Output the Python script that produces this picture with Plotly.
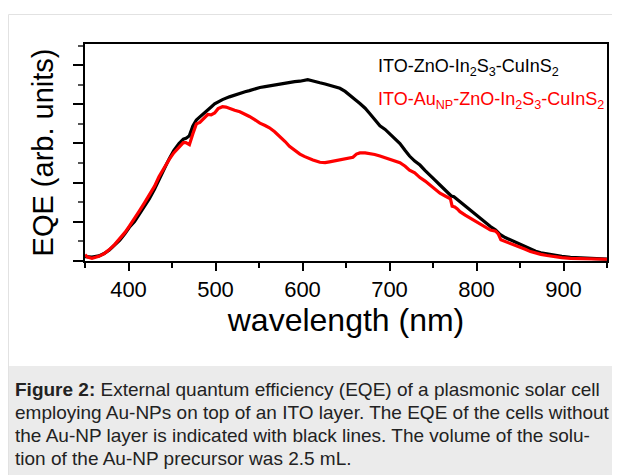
import plotly.graph_objects as go

# ---------------- data ----------------
wl_ref = [350, 358, 366, 372, 378, 384, 390, 396, 401, 407, 412, 418, 424, 430, 435, 441,
          447, 452, 458, 463, 466, 470, 474, 478, 482, 486, 491, 495, 499, 503, 508, 516,
          522, 528, 534, 539, 545, 551, 557, 562, 568, 574, 580, 585, 591, 597, 602, 606,
          610, 615, 620, 626, 631, 637, 643, 649, 654, 660, 666, 672, 677, 683, 689, 695,
          700, 706, 712, 718, 723, 729, 735, 741, 747, 752, 758, 764, 768, 771, 774, 781,
          787, 793, 799, 805, 810, 816, 822, 827, 833, 839, 845, 851, 856, 862, 868, 874,
          881, 889, 898, 908, 918, 928, 940, 950]
eqe_ref = [1.1, 1.0, 1.3, 1.9, 2.8, 4.0, 5.3, 7.0, 8.6, 10.1, 11.7, 13.8, 15.9, 18.4, 20.9, 23.5,
           26.2, 28.2, 30.0, 31.1, 31.3, 32.0, 34.5, 36.0, 36.8, 37.5, 38.5, 39.3, 40.1, 40.6, 41.2, 41.9,
           42.4, 42.9, 43.2, 43.5, 44.0, 44.3, 44.5, 44.7, 45.0, 45.3, 45.5, 45.7, 45.8, 45.9, 46.1, 46.3,
           46.1, 45.7, 45.5, 45.2, 44.9, 44.6, 44.1, 43.3, 42.3, 41.3, 40.2, 39.0, 37.7, 36.0, 34.5, 33.6,
           32.6, 31.4, 30.0, 28.2, 26.8, 25.5, 24.5, 23.1, 21.9, 20.7, 19.4, 18.2, 17.3, 16.6, 16.4, 15.1,
           14.0, 13.0, 11.9, 10.9, 9.8, 8.8, 7.9, 6.8, 6.0, 5.4, 4.7, 4.1, 3.5, 3.0, 2.5, 2.1,
           1.8, 1.5, 1.2, 0.95, 0.8, 0.68, 0.55, 0.5]

wl_au = [350, 353, 358, 366, 372, 378, 384, 390, 396, 401, 407, 412, 418, 424, 430, 435,
         441, 447, 452, 458, 463, 466, 470, 474, 478, 482, 486, 491, 495, 499, 503, 508,
         512, 516, 522, 528, 534, 539, 545, 551, 557, 562, 568, 574, 580, 585, 591, 597,
         602, 606, 612, 620, 626, 631, 637, 643, 649, 654, 658, 662, 666, 672, 677, 683,
         689, 695, 700, 706, 712, 718, 723, 729, 735, 741, 747, 752, 758, 764, 768, 770,
         772, 775, 778, 781, 787, 793, 799, 805, 810, 816, 822, 825, 828, 833, 839, 845,
         851, 856, 862, 868, 874, 881, 889, 898, 908, 918, 928, 940, 950]
eqe_au = [1.6, 1.0, 0.7, 1.2, 1.9, 2.9, 4.2, 5.6, 7.3, 8.9, 10.8, 12.6, 14.7, 16.8, 19.1, 21.5,
          23.8, 26.0, 27.6, 29.0, 30.2, 30.2, 29.7, 32.5, 35.0, 35.4, 36.4, 37.4, 37.3, 37.8, 38.9, 39.4,
          39.3, 38.9, 38.5, 38.1, 37.5, 36.9, 36.1, 35.2, 34.6, 34.0, 33.0, 31.8, 30.5, 29.3, 28.2, 27.3,
          26.7, 26.3, 25.8, 25.2, 25.1, 25.3, 25.6, 25.9, 26.1, 26.4, 26.5, 27.3, 27.6, 27.6, 27.5, 27.2,
          26.8, 26.4, 25.9, 25.6, 25.1, 24.2, 23.2, 22.5, 21.3, 20.4, 19.3, 18.2, 17.3, 16.6, 16.2, 15.9,
          14.0, 13.8, 13.3, 12.6, 11.7, 10.9, 10.0, 9.2, 8.6, 7.9, 7.6, 6.9, 5.4, 5.0, 4.5, 4.0,
          3.5, 3.0, 2.4, 2.0, 1.7, 1.4, 1.1, 0.85, 0.68, 0.58, 0.5, 0.45, 0.45]

x_range = [350, 950]
y_range = [0, 55.4]
x_title = "wavelength (nm)"
y_title = "EQE (arb. units)"
label_ref = "ITO-ZnO-In<sub>2</sub>S<sub>3</sub>-CuInS<sub>2</sub>"
label_au = "ITO-Au<sub>NP</sub>-ZnO-In<sub>2</sub>S<sub>3</sub>-CuInS<sub>2</sub>"
caption_lines = [
    "<b>Figure 2:</b> External quantum efficiency (EQE) of a plasmonic solar cell",
    "employing Au-NPs on top of an ITO layer. The EQE of the cells without",
    "the Au-NP layer is indicated with black lines. The volume of the solu-",
    "tion of the Au-NP precursor was 2.5 mL.",
]

# ---------------- layout geometry ----------------
# The page body adds an 8px margin, so the figure is drawn 8px smaller and
# every screen-pixel target is shifted by that offset.
OFF = 8
W, H = 620 - OFF, 475 - OFF
L, R, T, B = 85 - OFF, 607 - OFF, 44 - OFF, 261 - OFF


def px(x):
    return (x - OFF - L) / (R - L)


def py(y):
    return (B - (y - OFF)) / (B - T)


FONT = "Liberation Sans, Arial, sans-serif"

fig = go.Figure()
fig.add_trace(go.Scatter(x=wl_ref, y=eqe_ref, mode="lines", name="ITO-ZnO-In2S3-CuInS2",
                         line=dict(color="#000000", width=3.2), showlegend=False))
fig.add_trace(go.Scatter(x=wl_au, y=eqe_au, mode="lines", name="ITO-AuNP-ZnO-In2S3-CuInS2",
                         line=dict(color="#ff0000", width=3.2), showlegend=False))

shapes = [
    dict(type="rect", xref="paper", yref="paper", x0=px(8.5), x1=px(700), y0=py(14.5), y1=py(600),
         line=dict(color="#e2e2e2", width=1), fillcolor="#ffffff", layer="below"),
    dict(type="rect", xref="paper", yref="paper", x0=px(9), x1=px(700), y0=py(366), y1=py(600),
         line=dict(width=0), fillcolor="#ebebeb", layer="below"),
]

annotations = [
    dict(text=label_ref, xref="paper", yref="paper", x=px(376), y=py(68), xanchor="left",
         yanchor="middle", showarrow=False, font=dict(family=FONT, size=18, color="#000000")),
    dict(text=label_au, xref="paper", yref="paper", x=px(376), y=py(100), xanchor="left",
         yanchor="middle", showarrow=False, font=dict(family=FONT, size=18, color="#ff0000")),
]
for i, line in enumerate(caption_lines):
    annotations.append(dict(text=line, xref="paper", yref="paper", x=px(13), y=py(389 + 23.3 * i),
                            xanchor="left", yanchor="middle", showarrow=False, align="left",
                            font=dict(family=FONT, size=19, color="#222222")))

fig.update_layout(
    width=W, height=H, autosize=False,
    margin=dict(l=L, r=W - R, t=T, b=H - B, pad=0),
    paper_bgcolor="#ffffff", plot_bgcolor="rgba(0,0,0,0)",
    font=dict(family=FONT, color="#000000"),
    shapes=shapes, annotations=annotations,
    xaxis=dict(range=x_range, dtick=100, tick0=0, ticks="outside", ticklen=8, tickwidth=2,
               tickcolor="#000", showline=True, linewidth=2, linecolor="#000", mirror=True,
               showgrid=False, zeroline=False, tickfont=dict(size=22, family=FONT),
               minor=dict(dtick=50, ticks="outside", ticklen=5, tickwidth=2, tickcolor="#000"),
               title=dict(text=x_title, font=dict(size=32, family=FONT), standoff=0)),
    yaxis=dict(range=y_range, dtick=10, tick0=0, ticks="outside", ticklen=10, tickwidth=2,
               tickcolor="#000", showline=True, linewidth=2, linecolor="#000", mirror=True,
               showgrid=False, zeroline=False, showticklabels=False,
               minor=dict(dtick=5, ticks="outside", ticklen=5, tickwidth=1.5, tickcolor="#555"),
               title=dict(text=y_title, font=dict(size=29, family=FONT), standoff=11)),
)

fig.write_html("out.html")
